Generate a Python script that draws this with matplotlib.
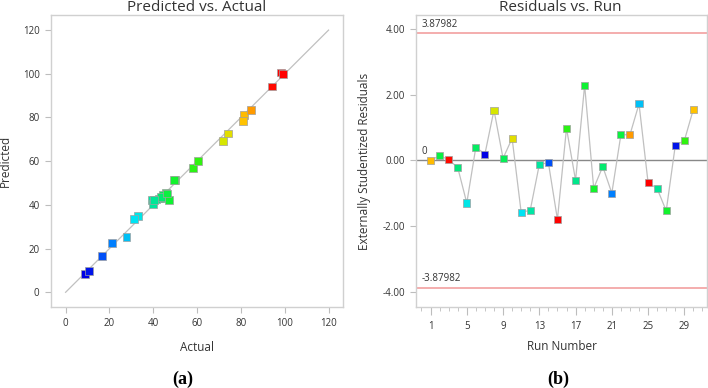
import numpy as np
import matplotlib
matplotlib.use("Agg")
import matplotlib.pyplot as plt
from matplotlib.colors import LinearSegmentedColormap
from matplotlib.ticker import MultipleLocator, FixedLocator

# ---- data ----
runs = np.arange(1, 31)
actual = [81.4, 45.7, 94.3, 42.5, 32.9, 44.0, 9.0, 71.8, 44.6, 74.1,
          31.3, 39.3, 40.0, 16.6, 98.3, 58.1, 41.5, 47.2, 49.8, 43.5,
          21.0, 46.3, 84.8, 27.8, 99.2, 40.5, 49.3, 10.8, 60.3, 80.8]
predicted = [81.1, 45.7, 94.2, 42.9, 34.9, 43.3, 8.4, 69.4, 44.5, 72.7,
             33.7, 42.2, 40.3, 16.5, 100.6, 57.0, 42.5, 42.2, 51.2, 43.8,
             22.4, 45.2, 83.4, 25.2, 100.0, 42.2, 51.5, 9.9, 59.9, 78.4]
residuals = [0.00, 0.14, 0.02, -0.22, -1.30, 0.40, 0.19, 1.53, 0.06, 0.67,
             -1.59, -1.52, -0.13, -0.07, -1.80, 0.98, -0.61, 2.29, -0.85, -0.19,
             -1.00, 0.78, 0.78, 1.72, -0.68, -0.86, -1.54, 0.45, 0.60, 1.56]
limit = 3.87982

cmap = LinearSegmentedColormap.from_list("de", [
    (0.00, (0.0, 0.0, 0.9)),
    (0.12, (0.0, 0.45, 1.0)),
    (0.25, (0.0, 0.9, 0.95)),
    (0.36, (0.0, 0.9, 0.55)),
    (0.42, (0.05, 0.95, 0.2)),
    (0.58, (0.2, 0.95, 0.05)),
    (0.70, (0.85, 0.9, 0.0)),
    (0.79, (1.0, 0.78, 0.0)),
    (0.85, (1.0, 0.58, 0.0)),
    (0.93, (1.0, 0.05, 0.0)),
    (1.00, (1.0, 0.0, 0.0))])
vals = np.array(actual)
colors = cmap((vals - vals.min()) / (vals.max() - vals.min()))

plt.rcParams["font.family"] = ["Open Sans", "DejaVu Sans"]
GRAY = "#bdbdbd"
TXT = "#333333"

fig = plt.figure(figsize=(7.08, 3.88), dpi=100)
axL = fig.add_axes([0.0716, 0.2095, 0.4129, 0.7518])
axR = fig.add_axes([0.5876, 0.2088, 0.4110, 0.7526])


def style(ax):
    for s in ax.spines.values():
        s.set_color("#d0d0d0"); s.set_linewidth(1.0)
    ax.tick_params(direction="out", length=4, width=0.8, color=GRAY,
                   labelsize=7, labelcolor=TXT, pad=4)


# ---- (a) Predicted vs. Actual ----
style(axL)
axL.plot([0, 120], [0, 120], color="#c0c0c0", lw=0.9, zorder=1)
axL.scatter(actual, predicted, marker="s", s=32, c=colors,
            edgecolors="#a0a0a0", linewidths=0.5, zorder=3)
axL.set_xlim(-6.8, 126.6); axL.set_ylim(-6.6, 126.9)
axL.set_xticks(np.arange(0, 121, 20)); axL.set_yticks(np.arange(0, 121, 20))
axL.set_xlabel("Actual", fontsize=8.5, color=TXT, labelpad=9)
axL.set_ylabel("Predicted", fontsize=8.5, color=TXT, labelpad=8)
fig.text(0.278, 1 - 11 / 388, "Predicted vs. Actual", ha="center",
         va="baseline", fontsize=11, color=TXT)

# ---- (b) Residuals vs. Run ----
style(axR)
axR.plot(runs, residuals, color="#c0c0c0", lw=0.9, zorder=2)
axR.scatter(runs, residuals, marker="s", s=26, c=colors,
            edgecolors="#a0a0a0", linewidths=0.5, zorder=3)
axR.axhline(0, color="#888888", lw=1.0, zorder=1)
axR.axhline(limit, color="#f2a0a0", lw=1.2, zorder=1)
axR.axhline(-limit, color="#f2a0a0", lw=1.2, zorder=1)
axR.text(0.0, limit + 0.1, f"{limit:g}", fontsize=7, color=TXT, va="bottom")
axR.text(0.0, -limit + 0.1, f"{-limit:g}", fontsize=7, color=TXT, va="bottom")
axR.text(0.0, 0.1, "0", fontsize=7, color=TXT, va="bottom")
axR.set_xlim(-0.6, 31.5); axR.set_ylim(-4.47, 4.43)
axR.set_yticks([-4, -2, 0, 2, 4])
axR.set_yticklabels([f"{v:.2f}" for v in [-4, -2, 0, 2, 4]])
axR.xaxis.set_major_locator(FixedLocator(np.arange(1, 30, 4)))
axR.xaxis.set_minor_locator(MultipleLocator(1))
axR.tick_params(axis="x", which="major", length=6)
axR.tick_params(axis="x", which="minor", length=3, color=GRAY, direction="out")
axR.set_xlabel("Run Number", fontsize=8.5, color=TXT, labelpad=6)
axR.set_ylabel("Externally Studentized Residuals", fontsize=8.5, color=TXT, labelpad=8)
fig.text(0.792, 1 - 11 / 388, "Residuals vs. Run", ha="center",
         va="baseline", fontsize=11, color=TXT)

fig.text(183 / 708, 1 - 379 / 388, "(a)", ha="center", va="center",
         fontsize=13, fontweight="bold", family="Liberation Serif")
fig.text(558 / 708, 1 - 379 / 388, "(b)", ha="center", va="center",
         fontsize=13, fontweight="bold", family="Liberation Serif")

fig.savefig("out.png", dpi=100)
